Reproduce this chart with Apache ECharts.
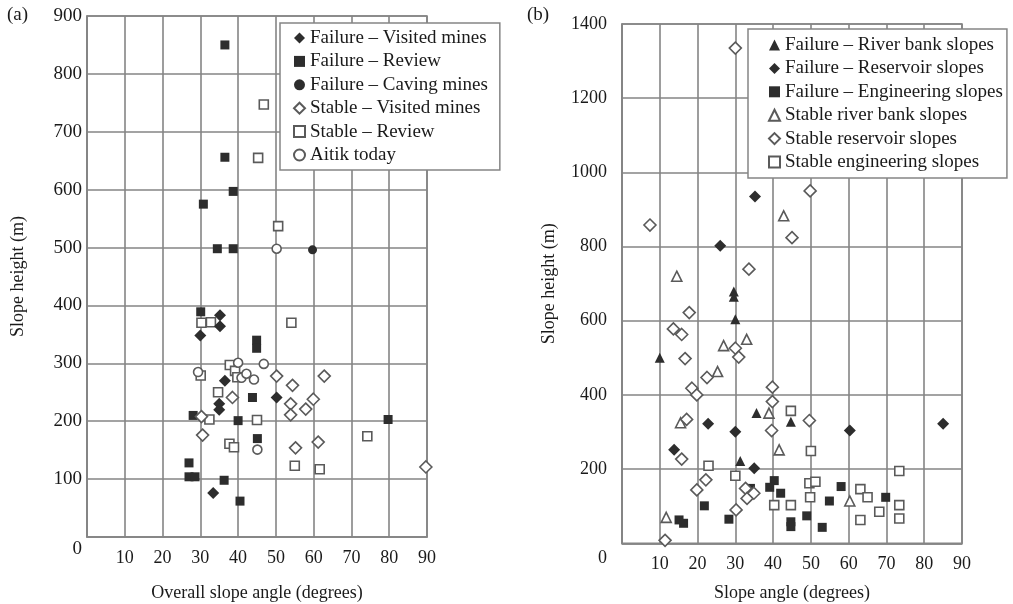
<!DOCTYPE html>
<html>
<head>
<meta charset="utf-8">
<script src="https://cdn.jsdelivr.net/npm/echarts@6/dist/echarts.min.js"></script>
<style>html,body{margin:0;padding:0;background:#fff}#c{width:1013px;height:604px}</style>
</head>
<body>
<div id="c"></div>
<script>
// ---------- Panel (a) data: [overall slope angle (deg), slope height (m)] ----------
const failureVisitedMines = [[35.2,383],[35.2,364],[30,348],[36.5,270],[35,230],[35,220],[33.4,76],[50.2,241]];
const failureReview = [[36.5,850],[36.5,656],[38.7,597],[30.8,575],[34.5,498],[38.7,498],[30.1,389],[28.1,210],[40,201],[27,128],[27,104],[28.6,104],[36.3,98],[40.5,62],[44.9,340],[44.9,326],[43.8,241],[45.1,170],[79.7,203]];
const failureCavingMines = [[59.7,496]];
const stableVisitedMines = [[38.5,241],[30.3,208],[30.6,176],[50.2,278],[54.4,262],[62.8,278],[53.9,230],[59.9,238],[57.9,221],[53.9,211],[61.2,164],[55.2,154],[89.7,121]];
const stableReview = [[46.8,747],[45.3,655],[50.6,537],[30.3,370],[32.8,371],[30.1,279],[37.8,297],[39.2,287],[39.8,276],[34.7,250],[32.4,203],[37.7,161],[38.9,155],[45,202],[54.1,370],[55,123],[61.6,117],[74.2,174]];
const aitikToday = [[50.2,498],[29.4,285],[40,301],[46.8,299],[40.9,275],[42.2,282],[44.2,272],[45.1,151]];

// ---------- Panel (b) data: [slope angle (deg), slope height (m)] ----------
const failureRiverBank = [[10,500],[29.6,679],[29.6,665],[30,604],[31.3,222],[35.6,351],[44.7,328]];
const failureReservoir = [[13.8,252],[22.8,322],[30,301],[35,202],[60.3,304],[85,322],[35.2,935],[26,802]];
const failureEngineering = [[21.8,101],[15.1,63],[16.3,54],[28.3,65],[34,148],[40.3,169],[39.1,151],[42,135],[44.7,58],[44.7,45],[48.9,74],[53,43],[54.9,114],[58,153],[69.8,124],[90.3,78]];
const stableRiverBank = [[11.7,70],[14.5,720],[15.5,325],[25.3,463],[26.9,533],[33,550],[38.9,351],[41.6,252],[42.8,883],[60.3,114]];
const stableReservoir = [[7.4,858],[17.8,622],[13.6,578],[15.8,563],[16.7,498],[18.5,418],[19.8,400],[22.5,447],[30,526],[30.9,502],[17.1,334],[15.8,227],[19.8,144],[22.2,171],[11.4,8],[30.2,90],[32.7,148],[33.1,121],[34.9,135],[39.8,421],[39.8,382],[39.6,304],[49.6,331],[30,1335],[33.6,739],[49.8,950],[45,824]];
const stableEngineering = [[22.9,209],[30,182],[44.7,357],[50,249],[73.4,195],[40.3,103],[44.7,103],[49.6,162],[51.2,166],[49.8,124],[63.1,146],[65,124],[63.1,63],[68.1,85],[73.4,103],[73.4,67]];

// ---------- axis settings ----------
const xAxisMax = 90, xAxisStep = 10;
const leftYMax = 900, leftYStep = 100;
const rightYMax = 1400, rightYStep = 200;
const leftXName = 'Overall slope angle (degrees)';
const rightXName = 'Slope angle (degrees)';
const yName = 'Slope height (m)';

const FONT = '"Liberation Serif", "DejaVu Serif", serif';
const TXT = '#1a1a1a';
const GRIDC = '#858585';
const DARK = '#2d2d2d';
const OPEN = '#5a5a5a';

const filled = {color: DARK, borderWidth: 0, opacity: 1};
const open = {color: '#ffffff', borderColor: OPEN, borderWidth: 1.6, opacity: 1};

function xAxis(gi, name, gap) {
  return {
    type: 'value', gridIndex: gi, min: 0, max: xAxisMax, interval: xAxisStep,
    name: name, nameLocation: 'middle', nameGap: gap,
    nameTextStyle: {fontFamily: FONT, fontSize: 18, color: TXT},
    axisLine: {show: true, onZero: false, lineStyle: {color: GRIDC, width: 1.6}},
    axisTick: {show: false},
    splitLine: {show: true, lineStyle: {color: GRIDC, width: 1.6}},
    axisLabel: {margin: 12, fontFamily: FONT, fontSize: 18, color: TXT,
      formatter: v => v === 0 ? '' : String(v)}
  };
}
function yAxis(gi, max, step, margin, gap, pad, fs) {
  return {
    type: 'value', gridIndex: gi, min: 0, max: max, interval: step,
    name: yName, nameLocation: 'middle', nameGap: gap, nameRotate: 90,
    nameTextStyle: {fontFamily: FONT, fontSize: 18, color: TXT},
    axisLine: {show: true, lineStyle: {color: GRIDC, width: 1.6}},
    axisTick: {show: false},
    splitLine: {show: true, lineStyle: {color: GRIDC, width: 1.6}},
    axisLabel: {margin: margin, fontFamily: FONT, fontSize: fs, color: TXT,
      formatter: v => v === 0 ? '{z|0}' : String(v),
      rich: {z: {fontFamily: FONT, fontSize: fs, color: TXT, padding: [pad, 0, 0, 0]}}}
  };
}
function sc(name, data, symbol, size, style, xi) {
  return {name: name, type: 'scatter', data: data, symbol: symbol, symbolSize: size,
    itemStyle: style, xAxisIndex: xi, yAxisIndex: xi, z: symbol === 'diamond' ? 3 : 2,
    emphasis: {disabled: true}};
}

const legendBase = {
  orient: 'vertical', itemWidth: 11, itemHeight: 11, itemGap: 3.4,
  backgroundColor: '#ffffff', borderColor: '#858585', borderWidth: 1.5, borderRadius: 0,
  textStyle: {fontFamily: FONT, fontSize: 19, color: TXT, lineHeight: 20},
  selectedMode: false
};

const chart = echarts.init(document.getElementById('c'), null, {renderer: 'canvas'});
chart.setOption({
  animation: false,
  backgroundColor: '#ffffff',
  grid: [
    {left: 87, right: 1013 - 427, top: 16, bottom: 604 - 537, show: true, borderColor: GRIDC, borderWidth: 1.6, containLabel: false, outerBoundsMode: 'none'},
    {left: 622, right: 1013 - 962, top: 24, bottom: 604 - 543.3, show: true, borderColor: GRIDC, borderWidth: 1.6, containLabel: false, outerBoundsMode: 'none'}
  ],
  xAxis: [xAxis(0, leftXName, 47), xAxis(1, rightXName, 41)],
  yAxis: [yAxis(0, leftYMax, leftYStep, 5, 60, 24, 19), yAxis(1, rightYMax, rightYStep, 15, 64, 30, 18)],
  legend: [
    Object.assign({}, legendBase, {left: 280, top: 23, padding: [5, 12, 5, 13],
      data: ['Failure – Visited mines', 'Failure – Review', 'Failure – Caving mines', 'Stable – Visited mines', 'Stable – Review', 'Aitik today']}),
    Object.assign({}, legendBase, {left: 748, top: 29, padding: [6, 4, 6, 20],
      data: ['Failure – River bank slopes', 'Failure – Reservoir slopes', 'Failure – Engineering slopes', 'Stable river bank slopes', 'Stable reservoir slopes', 'Stable engineering slopes']})
  ],
  graphic: [
    {type: 'text', left: 7, top: 6, style: {text: '(a)', fontFamily: FONT, fontSize: 19, fill: TXT}},
    {type: 'text', left: 527, top: 6, style: {text: '(b)', fontFamily: FONT, fontSize: 19, fill: TXT}}
  ],
  series: [
    sc('Failure – Visited mines', failureVisitedMines, 'diamond', 12, filled, 0),
    sc('Failure – Review', failureReview, 'rect', 9, filled, 0),
    sc('Failure – Caving mines', failureCavingMines, 'circle', 9, filled, 0),
    sc('Stable – Visited mines', stableVisitedMines, 'diamond', 12, open, 0),
    sc('Stable – Review', stableReview, 'rect', 9, open, 0),
    sc('Aitik today', aitikToday, 'circle', 9, open, 0),
    sc('Failure – River bank slopes', failureRiverBank, 'triangle', 10, filled, 1),
    sc('Failure – Reservoir slopes', failureReservoir, 'diamond', 12, filled, 1),
    sc('Failure – Engineering slopes', failureEngineering, 'rect', 9, filled, 1),
    sc('Stable river bank slopes', stableRiverBank, 'triangle', 10, open, 1),
    sc('Stable reservoir slopes', stableReservoir, 'diamond', 12, open, 1),
    sc('Stable engineering slopes', stableEngineering, 'rect', 9, open, 1)
  ]
});
</script>
</body>
</html>
